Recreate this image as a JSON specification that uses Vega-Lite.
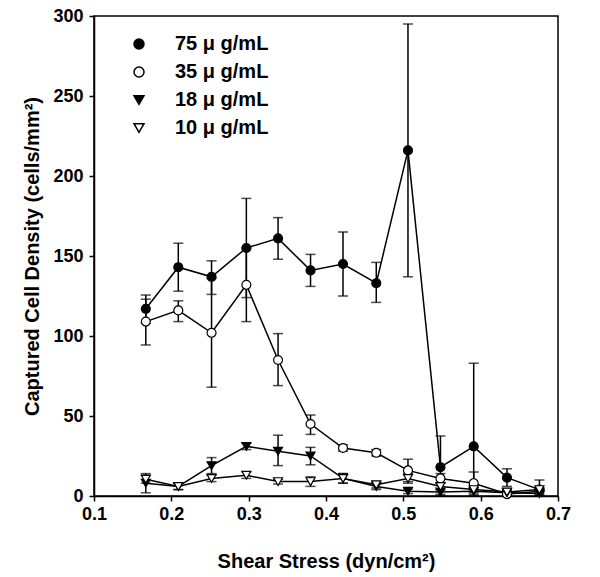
{
 "$schema": "https://vega.github.io/schema/vega-lite/v6.json",
 "width": 464, "height": 480,
 "autosize": {"type": "none"},
 "padding": {"left": 94, "top": 16, "right": 42, "bottom": 81},
 "background": "white",
 "config": {
  "font": "Liberation Sans",
  "view": {"stroke": "black", "strokeWidth": 1.5},
  "axis": {"grid": false, "domainColor": "black", "domainWidth": 1.5, "tickColor": "black", "tickWidth": 1.5, "tickSize": 5,
   "labelFont": "Liberation Sans", "labelFontSize": 18, "labelFontWeight": "bold", "labelColor": "black",
   "titleFont": "Liberation Sans", "titleFontSize": 20, "titleFontWeight": "bold", "titleColor": "black",
   "labelFlush": false, "labelOverlap": false}
 },
 "data": {"values": [
  {"series": "75 μ g/mL", "x": 0.167, "y": 117, "lo": 108, "hi": 125.6},
  {"series": "75 μ g/mL", "x": 0.209, "y": 143, "lo": 128, "hi": 158},
  {"series": "75 μ g/mL", "x": 0.252, "y": 137, "lo": 126, "hi": 147},
  {"series": "75 μ g/mL", "x": 0.297, "y": 155, "lo": 124, "hi": 186},
  {"series": "75 μ g/mL", "x": 0.338, "y": 161, "lo": 148, "hi": 174},
  {"series": "75 μ g/mL", "x": 0.380, "y": 141, "lo": 131, "hi": 151},
  {"series": "75 μ g/mL", "x": 0.422, "y": 145, "lo": 125, "hi": 165},
  {"series": "75 μ g/mL", "x": 0.465, "y": 133, "lo": 121, "hi": 146},
  {"series": "75 μ g/mL", "x": 0.506, "y": 216, "lo": 137, "hi": 295},
  {"series": "75 μ g/mL", "x": 0.548, "y": 18, "lo": 0, "hi": 37.5},
  {"series": "75 μ g/mL", "x": 0.591, "y": 31, "lo": 0, "hi": 83},
  {"series": "75 μ g/mL", "x": 0.634, "y": 11.5, "lo": 6, "hi": 17},
  {"series": "75 μ g/mL", "x": 0.676, "y": 4, "lo": 0, "hi": 10},
  {"series": "35 μ g/mL", "x": 0.167, "y": 109, "lo": 94.4, "hi": 123},
  {"series": "35 μ g/mL", "x": 0.209, "y": 116, "lo": 109, "hi": 122},
  {"series": "35 μ g/mL", "x": 0.252, "y": 102, "lo": 68, "hi": 136},
  {"series": "35 μ g/mL", "x": 0.297, "y": 132, "lo": 109, "hi": 155},
  {"series": "35 μ g/mL", "x": 0.338, "y": 85, "lo": 69, "hi": 101.5},
  {"series": "35 μ g/mL", "x": 0.380, "y": 45, "lo": 38.5, "hi": 50.6},
  {"series": "35 μ g/mL", "x": 0.422, "y": 30, "lo": 28, "hi": 32},
  {"series": "35 μ g/mL", "x": 0.465, "y": 27, "lo": 25, "hi": 29},
  {"series": "35 μ g/mL", "x": 0.506, "y": 16, "lo": 9, "hi": 23},
  {"series": "35 μ g/mL", "x": 0.548, "y": 11, "lo": 8, "hi": 14},
  {"series": "35 μ g/mL", "x": 0.591, "y": 8, "lo": 1, "hi": 15},
  {"series": "35 μ g/mL", "x": 0.634, "y": 1.2, "lo": 0, "hi": 2.5},
  {"series": "35 μ g/mL", "x": 0.676, "y": 3, "lo": 1, "hi": 5},
  {"series": "18 μ g/mL", "x": 0.167, "y": 8, "lo": 2, "hi": 14},
  {"series": "18 μ g/mL", "x": 0.209, "y": 6, "lo": 4, "hi": 8},
  {"series": "18 μ g/mL", "x": 0.252, "y": 19, "lo": 14, "hi": 24},
  {"series": "18 μ g/mL", "x": 0.297, "y": 31, "lo": 29, "hi": 33},
  {"series": "18 μ g/mL", "x": 0.338, "y": 28, "lo": 19, "hi": 38},
  {"series": "18 μ g/mL", "x": 0.380, "y": 25, "lo": 19.5, "hi": 30.4},
  {"series": "18 μ g/mL", "x": 0.422, "y": 11, "lo": 8, "hi": 14},
  {"series": "18 μ g/mL", "x": 0.465, "y": 6, "lo": 4, "hi": 8},
  {"series": "18 μ g/mL", "x": 0.506, "y": 3, "lo": 1.5, "hi": 4.5},
  {"series": "18 μ g/mL", "x": 0.548, "y": 2.5, "lo": 1, "hi": 4},
  {"series": "18 μ g/mL", "x": 0.591, "y": 3, "lo": 2, "hi": 4},
  {"series": "18 μ g/mL", "x": 0.634, "y": 2, "lo": 1, "hi": 3},
  {"series": "18 μ g/mL", "x": 0.676, "y": 1.5, "lo": 0, "hi": 3},
  {"series": "10 μ g/mL", "x": 0.167, "y": 10.5, "lo": 8, "hi": 13},
  {"series": "10 μ g/mL", "x": 0.209, "y": 6, "lo": 4, "hi": 8},
  {"series": "10 μ g/mL", "x": 0.252, "y": 11, "lo": 9, "hi": 13},
  {"series": "10 μ g/mL", "x": 0.297, "y": 13, "lo": 11, "hi": 15},
  {"series": "10 μ g/mL", "x": 0.338, "y": 9, "lo": 7.5, "hi": 10.5},
  {"series": "10 μ g/mL", "x": 0.380, "y": 9, "lo": 6, "hi": 12},
  {"series": "10 μ g/mL", "x": 0.422, "y": 11, "lo": 8, "hi": 14},
  {"series": "10 μ g/mL", "x": 0.465, "y": 7, "lo": 5, "hi": 9},
  {"series": "10 μ g/mL", "x": 0.506, "y": 11, "lo": 8, "hi": 14},
  {"series": "10 μ g/mL", "x": 0.548, "y": 6, "lo": 4, "hi": 8},
  {"series": "10 μ g/mL", "x": 0.591, "y": 4, "lo": 3, "hi": 5},
  {"series": "10 μ g/mL", "x": 0.634, "y": 2.5, "lo": 1.5, "hi": 3.5},
  {"series": "10 μ g/mL", "x": 0.676, "y": 4, "lo": 3, "hi": 5}
 ]},
 "encoding": {
  "x": {"field": "x", "type": "quantitative",
   "scale": {"domain": [0.1, 0.7], "nice": false, "zero": false},
   "axis": {"values": [0.1, 0.2, 0.3, 0.4, 0.5, 0.6, 0.7], "format": ".1f", "labelPadding": 4, "titlePadding": 28, "title": "Shear Stress (dyn/cm²)"}}
 },
 "layer": [
  {"mark": {"type": "line", "color": "black", "strokeWidth": 1.5},
   "encoding": {
    "y": {"field": "y", "type": "quantitative", "scale": {"domain": [0, 300], "nice": false},
     "axis": {"values": [0, 50, 100, 150, 200, 250, 300], "labelPadding": 6, "titlePadding": 10, "title": "Captured Cell Density (cells/mm²)"}},
    "detail": {"field": "series", "type": "nominal"}}},
  {"mark": {"type": "rule", "color": "black", "strokeWidth": 1.5},
   "encoding": {"y": {"field": "lo", "type": "quantitative", "title": "Captured Cell Density (cells/mm²)"}, "y2": {"field": "hi"}}},
  {"mark": {"type": "tick", "orient": "horizontal", "color": "black", "thickness": 1.5, "size": 10},
   "encoding": {"y": {"field": "lo", "type": "quantitative", "title": "Captured Cell Density (cells/mm²)"}}},
  {"mark": {"type": "tick", "orient": "horizontal", "color": "black", "thickness": 1.5, "size": 10},
   "encoding": {"y": {"field": "hi", "type": "quantitative", "title": "Captured Cell Density (cells/mm²)"}}},
  {"mark": {"type": "point", "filled": true, "size": 80, "stroke": "black", "strokeWidth": 1.2, "opacity": 1},
   "encoding": {
    "y": {"field": "y", "type": "quantitative", "title": "Captured Cell Density (cells/mm²)"},
    "shape": {"field": "series", "type": "nominal",
     "scale": {"domain": ["75 μ g/mL", "35 μ g/mL", "18 μ g/mL", "10 μ g/mL"], "range": ["circle", "circle", "triangle-down", "triangle-down"]},
     "legend": {"title": null, "orient": "none", "legendX": 35, "legendY": 18, "padding": 0,
      "labelFont": "Liberation Sans", "labelFontSize": 20, "labelFontWeight": "bold", "labelColor": "black",
      "symbolSize": 100, "labelOffset": 26, "rowPadding": 8}},
    "fill": {"field": "series", "type": "nominal",
     "scale": {"domain": ["75 μ g/mL", "35 μ g/mL", "18 μ g/mL", "10 μ g/mL"], "range": ["black", "white", "black", "white"]}}
   }}
 ]
}
